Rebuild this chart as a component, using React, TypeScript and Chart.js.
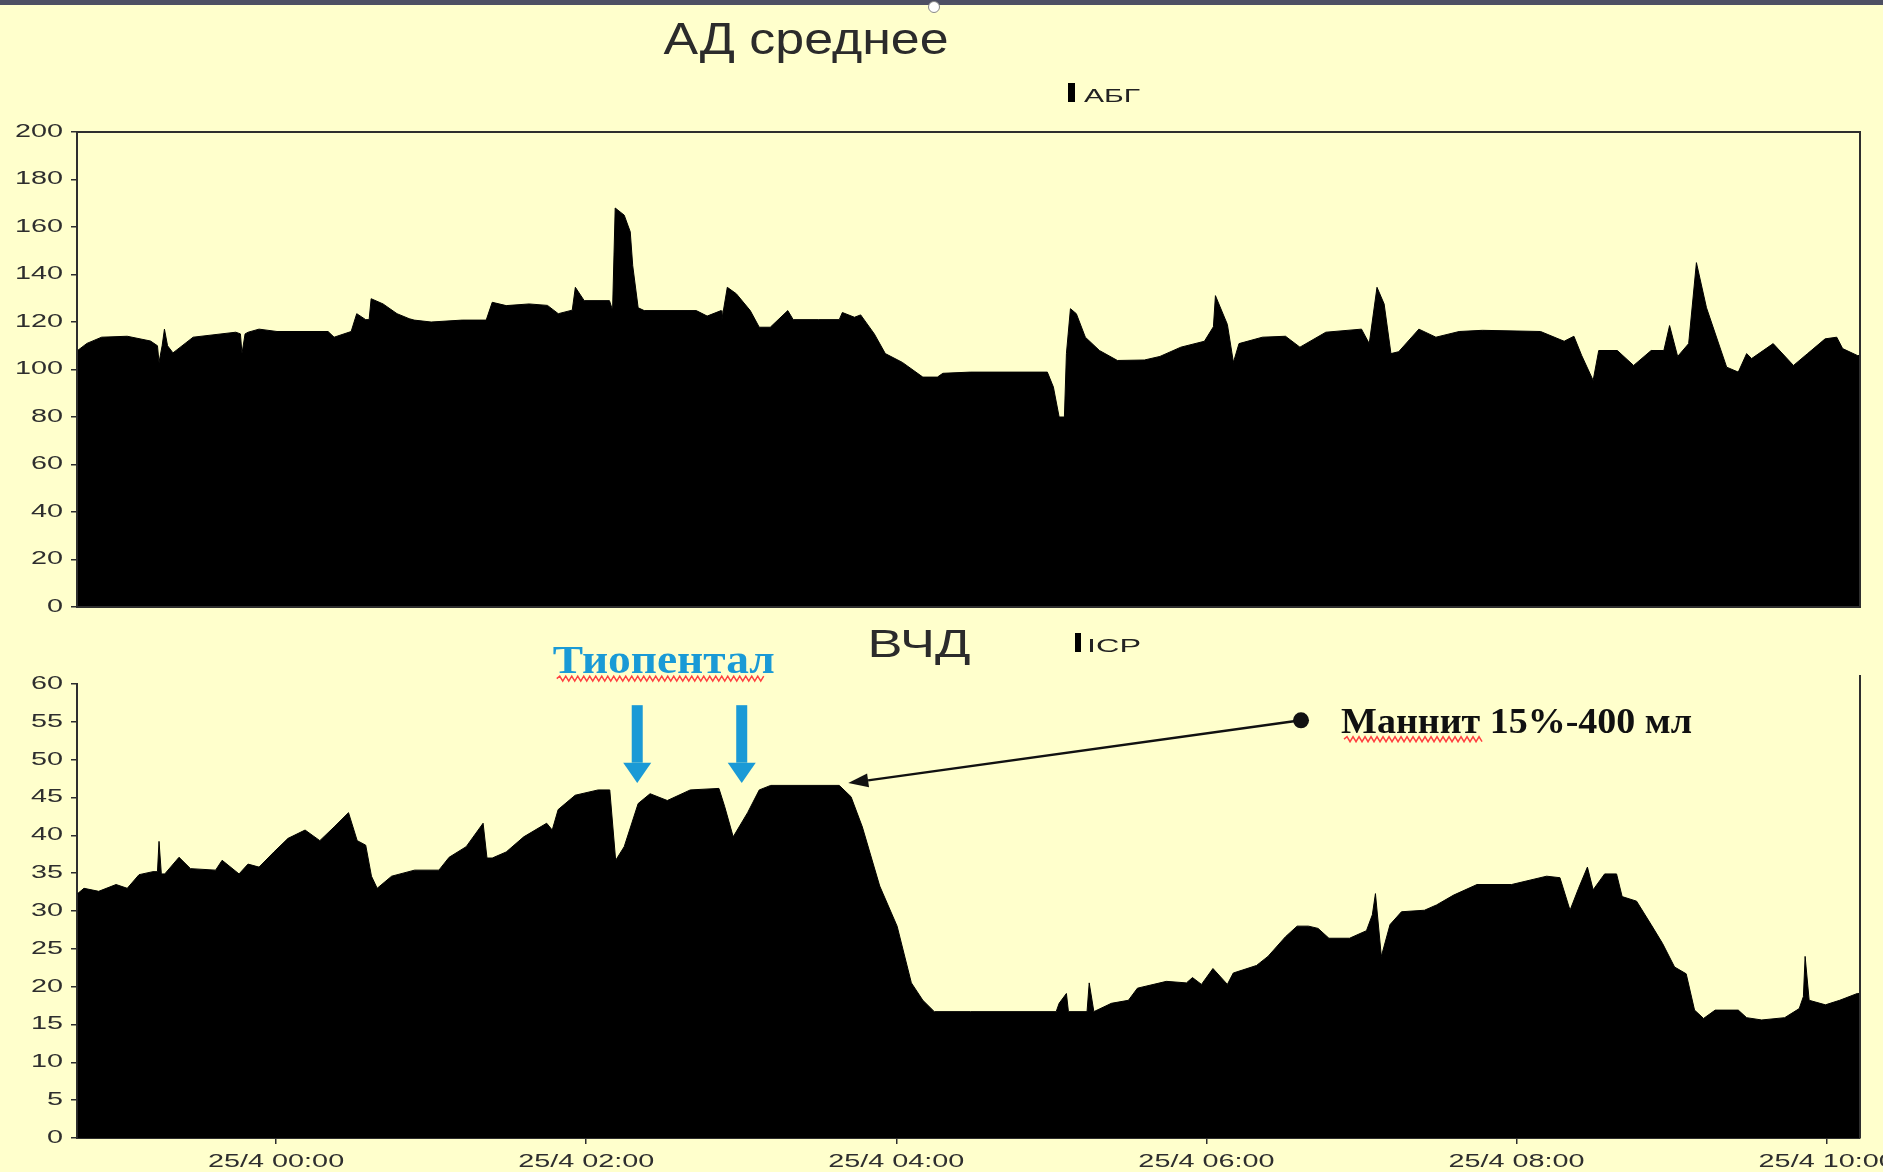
import React, { useEffect, useRef } from "react";
import { Chart, registerables } from "chart.js";
Chart.register(...registerables);

// ---- time axis (hours relative to 25/4 00:00) ----
const timeMin = -1.284;
const timeMax = 10.215;
const xTickHours = [0, 2, 4, 6, 8, 10];
const xTickLabels = ["25/4 00:00", "25/4 02:00", "25/4 04:00", "25/4 06:00", "25/4 08:00", "25/4 10:00"];

// ---- АД среднее (АБГ) ----
const abpHours = [
  -1.28, -1.22, -1.125, -0.96, -0.81, -0.765, -0.755, -0.735, -0.72, -0.7,
  -0.665, -0.535, -0.26, -0.23, -0.22, -0.2, -0.18, -0.11, 0.006, 0.335,
  0.374, 0.484, 0.52, 0.578, 0.6, 0.613, 0.69, 0.78, 0.858, 0.89,
  1.0, 1.2, 1.355, 1.394, 1.484, 1.632, 1.75, 1.82, 1.91, 1.93,
  1.987, 2.15, 2.17, 2.187, 2.245, 2.284, 2.3, 2.335, 2.374, 2.71,
  2.78, 2.87, 2.875, 2.91, 2.968, 3.058, 3.116, 3.187, 3.3, 3.335,
  3.5, 3.632, 3.652, 3.73, 3.77, 3.858, 3.929, 4.039, 4.171, 4.265,
  4.3, 4.477, 4.974, 5.013, 5.05, 5.084, 5.097, 5.123, 5.161, 5.219,
  5.31, 5.426, 5.6, 5.7, 5.835, 5.987, 6.045, 6.058, 6.135, 6.174,
  6.21, 6.361, 6.51, 6.603, 6.77, 7.0, 7.05, 7.1, 7.146, 7.19,
  7.24, 7.37, 7.48, 7.63, 7.78, 8.155, 8.307, 8.37, 8.42, 8.494,
  8.53, 8.65, 8.755, 8.868, 8.95, 8.987, 9.039, 9.11, 9.16, 9.225,
  9.355, 9.43, 9.484, 9.516, 9.655, 9.786, 9.877, 9.99, 10.065, 10.103,
  10.198, 10.215,
];
const abpValues = [
  108, 111, 113.6, 114, 112, 110, 103, 110, 117, 110,
  107, 113.6, 115.7, 115, 106.7, 115, 115.7, 117, 116, 116,
  113.6, 116, 123.5, 121, 121, 129.8, 127.6, 123.5, 121.4, 120.8,
  120, 120.8, 120.8, 128.3, 126.9, 127.6, 127, 123.5, 125, 134.6,
  129, 129, 125, 168, 165, 158, 143.7, 126, 124.8, 124.8,
  122.5, 124.8, 121, 134.6, 131.9, 124.8, 117.8, 117.8, 124.8, 121,
  121, 121, 124, 122, 123, 115, 106.7, 103, 96.8, 96.8,
  98.4, 98.9, 98.9, 92.6, 80, 80, 106.7, 125.6, 123.5, 113.6,
  108, 103.8, 104, 105.5, 109.4, 111.9, 118, 131.1, 119, 103,
  110.9, 113.6, 114, 109.4, 115.7, 117, 110.9, 134.6, 127.6, 106.7,
  107.5, 117, 113.6, 116, 116.5, 116, 111.9, 114, 105.9, 95.4,
  108, 108, 101.7, 108, 108, 118.5, 105.5, 110.9, 145, 126,
  101, 98.9, 106.7, 104.6, 110.9, 101.7, 106.7, 112.9, 113.6, 108.8,
  105.9, 105.9,
];

// ---- ВЧД (ICP) ----
const icpHours = [
  -1.28, -1.239, -1.144, -1.032, -0.96, -0.884, -0.794, -0.765, -0.755, -0.74,
  -0.718, -0.626, -0.552, -0.39, -0.348, -0.239, -0.181, -0.11, -0.014, 0.077,
  0.187, 0.282, 0.374, 0.467, 0.523, 0.578, 0.615, 0.652, 0.745, 0.893,
  1.05, 1.116, 1.226, 1.335, 1.36, 1.394, 1.484, 1.597, 1.745, 1.781,
  1.819, 1.929, 2.077, 2.152, 2.19, 2.245, 2.335, 2.412, 2.523, 2.671,
  2.856, 2.893, 2.948, 3.041, 3.116, 3.19, 3.632, 3.708, 3.781, 3.893,
  4.005, 4.097, 4.171, 4.245, 4.477, 5.031, 5.05, 5.097, 5.11, 5.23,
  5.244, 5.274, 5.387, 5.497, 5.555, 5.742, 5.871, 5.91, 5.968, 6.042,
  6.135, 6.173, 6.323, 6.397, 6.51, 6.585, 6.658, 6.72, 6.79, 6.923,
  7.032, 7.07, 7.09, 7.128, 7.184, 7.258, 7.406, 7.484, 7.594, 7.745,
  7.968, 8.194, 8.28, 8.345, 8.4, 8.457, 8.494, 8.568, 8.645, 8.681,
  8.774, 8.868, 8.942, 9.019, 9.094, 9.148, 9.206, 9.281, 9.43, 9.484,
  9.581, 9.729, 9.823, 9.85, 9.861, 9.887, 9.992, 10.084, 10.198, 10.215,
];
const icpValues = [
  32.3, 33.0, 32.6, 33.5, 33.0, 34.8, 35.2, 35.2, 39.2, 34.9,
  34.9, 37.1, 35.6, 35.4, 36.7, 34.9, 36.2, 35.8, 37.8, 39.6,
  40.7, 39.3, 41.1, 43.0, 39.3, 38.7, 34.6, 33.0, 34.6, 35.4,
  35.4, 37.1, 38.5, 41.6, 37.0, 37.0, 37.8, 39.8, 41.6, 40.7,
  43.4, 45.3, 46.0, 46.0, 36.7, 38.5, 44.2, 45.5, 44.6, 46.0,
  46.2, 43.8, 39.8, 43.0, 46.0, 46.6, 46.6, 45.1, 41.1, 33.3,
  28.0, 20.5, 18.2, 16.7, 16.7, 16.7, 17.8, 19.1, 16.7, 16.7,
  20.5, 16.7, 17.8, 18.2, 19.8, 20.7, 20.5, 21.2, 20.3, 22.4,
  20.3, 21.8, 22.8, 24.0, 26.6, 28.0, 28.0, 27.7, 26.4, 26.4,
  27.4, 29.5, 32.3, 24.0, 28.2, 29.9, 30.1, 30.8, 32.1, 33.5,
  33.5, 34.6, 34.4, 30.1, 33.0, 35.8, 32.8, 34.9, 34.9, 31.9,
  31.3, 28.2, 25.7, 22.6, 21.7, 16.9, 15.8, 16.9, 16.9, 15.9,
  15.6, 15.9, 17.1, 18.7, 24.0, 18.2, 17.6, 18.2, 19.1, 19.1,
];

// ---- annotations (in data space of the ICP chart) ----
const thiopentalArrowHours = [2.329, 3.003];
const thiopentalLabel = "Тиопентал";
const mannitolLabel = "Маннит 15%-400 мл";

const BG = "#FFFFCC";
const AXIS = "#2e2e2e";
const BLUE = "#1a9ad6";
const TICK_FONT = { family: '"Liberation Sans", Arial, sans-serif', size: 18 };
const TICK_STRETCH = 1.6;

function stretchText(ctx: any, text: string, x: number, y: number, font: string, color: string, targetW: number, align: string) {
  ctx.save();
  ctx.__sx = 1;
  ctx.font = font;
  ctx.fillStyle = color;
  ctx.textAlign = "left";
  ctx.textBaseline = "alphabetic";
  const w = ctx.measureText(text).width;
  const sx = targetW / w;
  const left = align === "center" ? x - targetW / 2 : x;
  ctx.translate(left, y);
  ctx.scale(sx, 1);
  ctx.fillText(text, 0, 0);
  ctx.restore();
}

function wavy(ctx: any, x0: number, x1: number, y: number) {
  ctx.save();
  ctx.strokeStyle = "#ff4040";
  ctx.lineWidth = 1.5;
  ctx.beginPath();
  let up = true;
  ctx.moveTo(x0, y);
  for (let x = x0 + 3; x <= x1; x += 3) {
    ctx.lineTo(x, up ? y - 2.5 : y + 2.5);
    up = !up;
  }
  ctx.stroke();
  ctx.restore();
}

// horizontally widen the axis tick labels (the source slide is stretched sideways)
const stretchPlugin = {
  id: "stretchTicks",
  beforeDraw(chart: any) {
    const ctx = chart.ctx;
    if (!ctx.__patched) {
      const orig = ctx.fillText;
      ctx.fillText = function (t: string, x: number, y: number) {
        const sx = this.__sx || 1;
        if (sx === 1) return orig.call(this, t, x, y);
        this.save();
        this.translate(x, y);
        this.scale(sx, 1);
        orig.call(this, t, 0, 0);
        this.restore();
      };
      ctx.__patched = true;
    }
    ctx.__sx = TICK_STRETCH;
  },
  beforeDatasetsDraw(chart: any) {
    chart.ctx.__sx = 1;
  },
  afterDraw(chart: any) {
    chart.ctx.__sx = 1;
  },
};

const topDecor = {
  id: "topDecor",
  afterDraw(chart: any) {
    const ctx = chart.ctx;
    const a = chart.chartArea;
    ctx.save();
    ctx.strokeStyle = AXIS;
    ctx.lineWidth = 2;
    ctx.strokeRect(a.left, a.top, a.right - a.left, a.bottom - a.top);
    ctx.restore();
    stretchText(ctx, "АД среднее", 806, 54, '44px "Liberation Sans", Arial', "#2b2b2b", 285, "center");
    ctx.save();
    ctx.fillStyle = "#000";
    ctx.fillRect(1068, 83, 7, 19);
    ctx.restore();
    stretchText(ctx, "АБГ", 1084, 102, '19px "Liberation Sans", Arial', "#222", 56, "left");
  },
};

const bottomDecor = {
  id: "bottomDecor",
  afterDraw(chart: any) {
    const ctx = chart.ctx;
    const a = chart.chartArea;
    const xs = chart.scales.x;
    const ys = chart.scales.y;
    ctx.save();
    ctx.strokeStyle = AXIS;
    ctx.lineWidth = 2;
    ctx.beginPath();
    ctx.moveTo(a.right, a.top - 9);
    ctx.lineTo(a.right, a.bottom);
    ctx.stroke();
    ctx.restore();

    stretchText(ctx, "ВЧД", 919, 42, '38px "Liberation Sans", Arial', "#2b2b2b", 103, "center");
    ctx.save();
    ctx.fillStyle = "#000";
    ctx.fillRect(1075, 18, 6, 19);
    ctx.restore();
    stretchText(ctx, "ICP", 1087, 37, '19px "Liberation Sans", Arial', "#222", 54, "left");

    // Тиопентал
    const tx = xs.getPixelForValue(2.5);
    const ty = ys.getPixelForValue(61.5);
    stretchText(ctx, thiopentalLabel, tx, ty, 'bold 40px "Liberation Serif", "Times New Roman", serif', BLUE, 222, "center");
    wavy(ctx, tx - 107, tx + 102, ty + 6);

    ctx.save();
    ctx.fillStyle = BLUE;
    for (const h of thiopentalArrowHours) {
      const cx = xs.getPixelForValue(h);
      const yTop = ys.getPixelForValue(57.2);
      const yHead = ys.getPixelForValue(49.6);
      const yTip = ys.getPixelForValue(46.9);
      ctx.fillRect(cx - 5.5, yTop, 11, yHead - yTop);
      ctx.beginPath();
      ctx.moveTo(cx - 14, yHead);
      ctx.lineTo(cx + 14, yHead);
      ctx.lineTo(cx, yTip);
      ctx.closePath();
      ctx.fill();
    }
    ctx.restore();

    // Маннит arrow
    const sx = xs.getPixelForValue(6.61);
    const sy = ys.getPixelForValue(55.2);
    const ex = xs.getPixelForValue(3.69);
    const ey = ys.getPixelForValue(46.9);
    const ang = Math.atan2(ey - sy, ex - sx);
    const hl = 20;
    const hw = 7;
    const bx = ex - hl * Math.cos(ang);
    const by = ey - hl * Math.sin(ang);
    ctx.save();
    ctx.strokeStyle = "#111";
    ctx.fillStyle = "#111";
    ctx.lineWidth = 2.5;
    ctx.beginPath();
    ctx.moveTo(sx, sy);
    ctx.lineTo(bx, by);
    ctx.stroke();
    ctx.beginPath();
    ctx.moveTo(ex, ey);
    ctx.lineTo(bx + hw * Math.sin(ang), by - hw * Math.cos(ang));
    ctx.lineTo(bx - hw * Math.sin(ang), by + hw * Math.cos(ang));
    ctx.closePath();
    ctx.fill();
    ctx.beginPath();
    ctx.arc(sx, sy, 8, 0, Math.PI * 2);
    ctx.fill();
    ctx.restore();

    const mx = xs.getPixelForValue(6.868);
    const my = ys.getPixelForValue(53.5);
    stretchText(ctx, mannitolLabel, mx, my, 'bold 36px "Liberation Serif", "Times New Roman", serif', "#111", 351, "left");
    wavy(ctx, mx + 3, mx + 141, my + 6);
  },
};

function yAxis(max: number, step: number) {
  return {
    min: 0,
    max,
    ticks: { stepSize: step, color: AXIS, font: TICK_FONT, padding: 8 },
    grid: { drawOnChartArea: false, drawTicks: true, tickLength: 6, color: AXIS, lineWidth: 1.5 },
    border: { display: true, color: AXIS, width: 2 },
    afterFit(s: any) {
      s.width = 77;
      s.paddingTop = 0;
      s.paddingBottom = 0;
    },
  };
}

function makeDataset(hours: number[], values: number[]) {
  return {
    data: hours.map((t, i) => ({ x: t, y: values[i] })),
    borderColor: "#000",
    backgroundColor: "#000",
    borderWidth: 1,
    fill: "origin",
    pointRadius: 0,
    tension: 0,
  };
}

export default function App() {
  const topRef = useRef<HTMLCanvasElement>(null);
  const botRef = useRef<HTMLCanvasElement>(null);

  useEffect(() => {
    const top = new Chart(topRef.current as HTMLCanvasElement, {
      type: "line",
      data: { datasets: [makeDataset(abpHours, abpValues) as any] },
      options: {
        responsive: false,
        animation: false,
        layout: { padding: { left: 0, top: 132, right: 23, bottom: 8 } },
        plugins: { legend: { display: false }, title: { display: false }, tooltip: { enabled: false } },
        scales: {
          x: { type: "linear", min: timeMin, max: timeMax, display: false },
          y: yAxis(200, 20) as any,
        },
      },
      plugins: [stretchPlugin, topDecor],
    });

    const bottom = new Chart(botRef.current as HTMLCanvasElement, {
      type: "line",
      data: { datasets: [makeDataset(icpHours, icpValues) as any] },
      options: {
        responsive: false,
        animation: false,
        layout: { padding: { left: 0, top: 69, right: 23, bottom: 0 } },
        plugins: { legend: { display: false }, title: { display: false }, tooltip: { enabled: false } },
        scales: {
          x: {
            type: "linear",
            min: timeMin,
            max: timeMax,
            afterBuildTicks(s: any) {
              s.ticks = xTickHours.map((v) => ({ value: v }));
            },
            ticks: {
              autoSkip: false,
              maxRotation: 0,
              color: AXIS,
              font: TICK_FONT,
              padding: 7,
              callback: (_v: any, i: number) => xTickLabels[i],
            },
            grid: { drawOnChartArea: false, drawTicks: true, tickLength: 6, color: AXIS, lineWidth: 1.5 },
            border: { display: true, color: AXIS, width: 2 },
            afterFit(s: any) {
              s.height = 34;
              s.paddingLeft = 0;
              s.paddingRight = 0;
            },
          } as any,
          y: yAxis(60, 5) as any,
        },
      },
      plugins: [stretchPlugin, bottomDecor],
    });

    return () => {
      top.destroy();
      bottom.destroy();
    };
  }, []);

  return (
    <div style={{ position: "fixed", left: 0, top: 0, width: 1883, height: 1172, background: BG, overflow: "hidden" }}>
      <div style={{ position: "absolute", left: 0, top: 0, width: 1883, height: 5, background: "#4d4f63" }} />
      <div
        style={{
          position: "absolute",
          left: 928,
          top: 1,
          width: 10,
          height: 10,
          borderRadius: "50%",
          background: "#fff",
          border: "1px solid #888",
        }}
      />
      <canvas ref={topRef} width={1883} height={615} style={{ position: "absolute", left: 0, top: 0, width: 1883, height: 615 }} />
      <canvas ref={botRef} width={1883} height={557} style={{ position: "absolute", left: 0, top: 615, width: 1883, height: 557 }} />
    </div>
  );
}
